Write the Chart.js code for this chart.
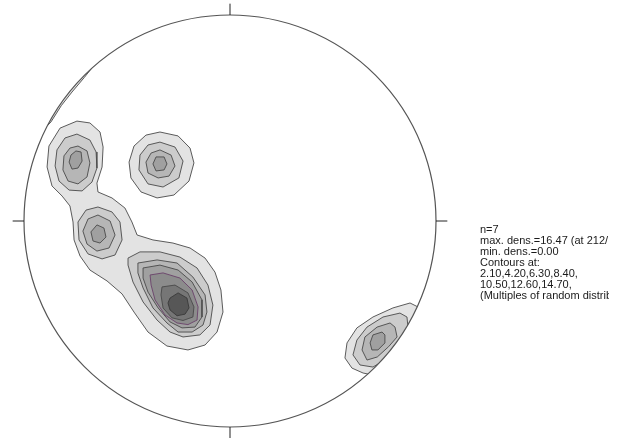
<!DOCTYPE html>
<html>
<head>
<meta charset="utf-8">
<style>
  html, body { margin: 0; padding: 0; background: #fff; }
  #wrap { width: 622px; height: 438px; }
</style>
<script src="https://cdn.jsdelivr.net/npm/chart.js@4/dist/chart.umd.min.js"></script>
</head>
<body>
<div id="wrap"><canvas id="net" width="622" height="438"></canvas></div>
<script>
// Pole density stereonet (equal-area, lower hemisphere).
// Projection coordinates: primitive circle radius = 100.
const NET_RADIUS = 100;

const poleCount = 7;
const maxDensity = 16.47;
const maxDensityAt = '212/ 51';
const minDensity = 0.00;
const contourLevels = [2.10, 4.20, 6.30, 8.40, 10.50, 12.60, 14.70];

// Contour polygons per level, [x, y] vertices in projection coordinates.
const contour210 = [
  [[-74.3,48.5],[-68.0,47.6],[-63.1,43.2],[-61.6,35.9],[-62.1,26.2],[-64.6,18.4],[-64.1,14.1],[-57.3,11.2],[-51.0,6.3],[-47.6,-0.5],[-45.1,-6.8],[-37.4,-9.2],[-27.7,-10.7],[-19.4,-13.1],[-12.1,-18.0],[-7.3,-24.8],[-4.4,-33.5],[-3.4,-44.2],[-6.3,-53.9],[-12.1,-60.2],[-20.4,-62.6],[-30.6,-60.7],[-39.8,-53.9],[-46.6,-44.2],[-52.4,-35.4],[-59.7,-29.1],[-68.0,-23.8],[-72.8,-17.0],[-75.7,-9.2],[-76.2,-0.5],[-77.7,7.3],[-81.5,12.1],[-86.4,17.0],[-88.8,26.2],[-87.9,36.4],[-82.5,45.1]],
  [[-34.0,43.2],[-25.2,41.3],[-19.4,35.4],[-17.5,28.2],[-19.9,19.4],[-27.2,12.6],[-35.4,11.2],[-43.2,14.1],[-48.1,20.9],[-49.0,28.6],[-46.6,36.4],[-40.8,41.7]],
  [[87.4,-39.8],[79.1,-42.2],[69.4,-46.6],[61.6,-51.9],[56.8,-59.2],[55.8,-66.5],[59.2,-71.4],[64.6,-73.8],[69.4,-74.8],[76.7,-72.3],[85.9,-63.6],[91.3,-51.9],[92.2,-42.2]],
  [[-65.5,76.2],[-70.7,69.7],[-76.7,62.6],[-81.9,56.0],[-86.9,48.1],[-88.8,46.1],[-92.2,51.5],[-75.2,80.6]]
];
const contour420 = [
  [[-74.3,42.2],[-68.0,39.3],[-65.0,33.5],[-64.6,25.7],[-67.0,18.9],[-71.8,14.6],[-78.1,15.0],[-83.0,19.4],[-84.9,26.7],[-84.0,34.5],[-80.1,40.3]],
  [[-64.1,6.8],[-57.3,4.4],[-53.4,-0.5],[-52.4,-9.2],[-55.8,-16.5],[-62.1,-18.4],[-68.9,-16.0],[-73.3,-9.2],[-73.8,-0.5],[-69.9,5.3]],
  [[-49.5,-18.0],[-43.7,-15.0],[-34.0,-15.0],[-24.3,-17.5],[-16.0,-22.8],[-10.7,-31.1],[-8.3,-40.8],[-9.7,-50.5],[-14.6,-55.3],[-22.8,-56.3],[-29.1,-53.9],[-35.4,-48.1],[-42.2,-39.3],[-47.1,-29.6],[-49.5,-21.4]],
  [[-34.0,38.3],[-26.7,35.9],[-22.8,29.1],[-24.8,20.9],[-32.5,16.5],[-39.8,18.0],[-44.2,24.8],[-43.7,32.0],[-39.8,36.9]],
  [[82.5,-44.7],[74.3,-46.6],[66.5,-51.5],[61.6,-57.8],[59.7,-65.0],[63.1,-69.9],[69.4,-70.9],[76.7,-66.5],[83.5,-59.2],[86.4,-51.5],[85.9,-46.6]]
];
const contour630 = [
  [[-73.8,36.4],[-69.4,34.0],[-68.0,28.2],[-69.4,21.4],[-73.8,18.0],[-78.6,19.4],[-81.1,24.8],[-80.6,31.6],[-77.7,35.4]],
  [[-64.1,2.9],[-58.2,0.0],[-55.8,-6.8],[-58.7,-13.1],[-64.6,-14.6],[-69.4,-11.2],[-71.4,-4.9],[-68.9,1.0]],
  [[-44.7,-20.4],[-35.4,-18.9],[-25.7,-20.4],[-18.0,-27.2],[-12.1,-35.9],[-11.2,-44.2],[-13.1,-50.5],[-18.4,-53.9],[-25.2,-53.9],[-30.6,-49.5],[-37.4,-42.2],[-42.2,-32.5],[-44.7,-25.2]],
  [[-34.0,34.5],[-28.6,32.0],[-26.7,26.7],[-29.6,21.8],[-34.9,20.9],[-39.8,23.3],[-40.8,28.6],[-38.3,33.0]],
  [[77.7,-49.5],[71.4,-51.5],[65.5,-56.3],[64.1,-62.6],[66.5,-67.5],[71.5,-66.0],[77.0,-61.0],[81.1,-56.3],[80.1,-51.5]]
];
const contour840 = [
  [[-74.8,34.0],[-72.3,33.5],[-71.8,29.1],[-73.8,25.7],[-76.7,25.2],[-78.1,28.6],[-77.2,32.0]],
  [[-64.6,-1.9],[-61.2,-3.4],[-60.2,-7.8],[-63.1,-10.7],[-66.5,-9.7],[-67.5,-5.3]],
  [[-42.2,-22.8],[-34.0,-21.4],[-25.2,-23.8],[-18.4,-29.6],[-13.6,-38.3],[-13.6,-46.6],[-17.0,-51.5],[-23.3,-51.9],[-29.1,-49.0],[-34.9,-42.2],[-39.8,-34.5],[-42.2,-27.7]],
  [[-35.9,31.1],[-32.0,31.1],[-30.6,27.7],[-32.0,24.8],[-35.9,24.3],[-37.4,27.7]],
  [[73.8,-53.9],[69.4,-55.3],[68.0,-59.2],[68.9,-62.6],[71.8,-62.6],[75.2,-59.2],[75.2,-55.3]]
];
const contour1050 = [
  [[-38.8,-26.2],[-32.5,-25.2],[-24.3,-27.7],[-18.4,-33.5],[-15.5,-41.7],[-16.0,-48.1],[-20.4,-50.3],[-25.7,-49.5],[-31.6,-45.6],[-36.4,-38.3],[-38.3,-31.1]]
];
const contour1260 = [
  [[-33.0,-32.0],[-26.7,-31.1],[-20.4,-34.9],[-17.5,-41.7],[-18.0,-46.6],[-22.8,-48.3],[-28.2,-47.0],[-32.5,-42.2],[-33.5,-35.9]]
];
const contour1470 = [
  [[-29.1,-37.4],[-25.2,-34.9],[-20.9,-37.4],[-19.9,-42.2],[-21.8,-45.2],[-25.7,-46.0],[-29.1,-43.2],[-30.1,-39.8]]
];

const contoursByLevel = [contour210, contour420, contour630, contour840, contour1050, contour1260, contour1470];

// Styling
const levelFills = ['#e3e3e3', '#cccccc', '#b6b6b6', '#a0a0a0', '#8c8c8c', '#767676', '#575757'];
const levelLines = ['#4a4a4a', '#4a4a4a', '#4a4a4a', '#4a4a4a', '#6a426a', '#4a4a4a', '#3a3a3a'];

const datasets = [];
contoursByLevel.forEach((polys, li) => {
  polys.forEach(poly => {
    const pts = poly.map(([x, y]) => ({ x, y }));
    pts.push({ x: poly[0][0], y: poly[0][1] });
    datasets.push({
      label: contourLevels[li].toFixed(2),
      data: pts,
      showLine: true,
      fill: 'shape',
      backgroundColor: levelFills[li],
      borderColor: levelLines[li],
      borderWidth: 0.9,
      borderJoinStyle: 'round',
      pointRadius: 0,
      pointHoverRadius: 0,
      tension: 0,
      order: -li
    });
  });
});

const infoLines = [
  'n=' + poleCount,
  'max. dens.=' + maxDensity.toFixed(2) + ' (at ' + maxDensityAt + ')',
  'min. dens.=' + minDensity.toFixed(2),
  'Contours at:',
  contourLevels.slice(0, 4).map(v => v.toFixed(2)).join(',') + ',',
  contourLevels.slice(4).map(v => v.toFixed(2)).join(',') + ',',
  '(Multiples of random distribution)'
];

function netGeometry(chart) {
  const xs = chart.scales.x, ys = chart.scales.y;
  const cx = xs.getPixelForValue(0), cy = ys.getPixelForValue(0);
  const r = xs.getPixelForValue(NET_RADIUS) - cx;
  const tick = xs.getPixelForValue(NET_RADIUS * 1.055) - cx;
  return { cx, cy, r, tick };
}

const stereonetPlugin = {
  id: 'stereonet',
  beforeDatasetsDraw(chart) {
    const { ctx } = chart;
    const g = netGeometry(chart);
    ctx.save();
    ctx.beginPath();
    ctx.arc(g.cx, g.cy, g.r, 0, Math.PI * 2);
    ctx.clip();
  },
  afterDatasetsDraw(chart) {
    const { ctx } = chart;
    ctx.restore();
    const g = netGeometry(chart);
    ctx.save();
    // primitive circle
    ctx.beginPath();
    ctx.arc(g.cx, g.cy, g.r, 0, Math.PI * 2);
    ctx.strokeStyle = '#555';
    ctx.lineWidth = 1.2;
    ctx.stroke();
    // N, E, S, W ticks
    ctx.beginPath();
    ctx.moveTo(g.cx, g.cy - g.r); ctx.lineTo(g.cx, g.cy - g.tick);
    ctx.moveTo(g.cx, g.cy + g.r); ctx.lineTo(g.cx, g.cy + g.tick);
    ctx.moveTo(g.cx - g.r, g.cy); ctx.lineTo(g.cx - g.tick, g.cy);
    ctx.moveTo(g.cx + g.r, g.cy); ctx.lineTo(g.cx + g.tick, g.cy);
    ctx.strokeStyle = '#222';
    ctx.lineWidth = 1;
    ctx.stroke();
    ctx.restore();
  },
  afterDraw(chart) {
    const { ctx, chartArea } = chart;
    const g = netGeometry(chart);
    const x0 = chartArea.right + 44;
    ctx.save();
    ctx.beginPath();
    ctx.rect(x0 - 2, 0, 131, chart.height);
    ctx.clip();
    ctx.fillStyle = '#1a1a1a';
    ctx.font = '11px "Liberation Sans", Arial, sans-serif';
    ctx.textBaseline = 'alphabetic';
    infoLines.forEach((t, i) => ctx.fillText(t, x0, g.cy + 12 + i * 11));
    ctx.restore();
  }
};

new Chart(document.getElementById('net'), {
  type: 'scatter',
  data: { datasets },
  options: {
    responsive: false,
    devicePixelRatio: 1,
    animation: false,
    layout: { padding: { left: 24, right: 186, top: 15, bottom: 11 } },
    scales: {
      x: { type: 'linear', min: -NET_RADIUS, max: NET_RADIUS, display: false },
      y: { type: 'linear', min: -NET_RADIUS, max: NET_RADIUS, display: false }
    },
    plugins: {
      legend: { display: false },
      tooltip: { enabled: false }
    },
    events: []
  },
  plugins: [stereonetPlugin]
});
</script>
</body>
</html>
